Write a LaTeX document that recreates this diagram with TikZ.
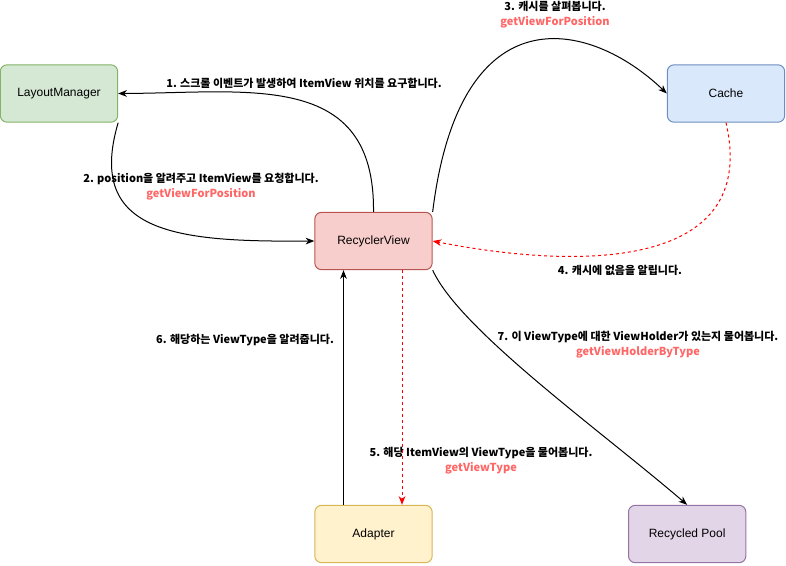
\documentclass[tikz,border=0pt]{standalone}
\usepackage{fontspec}
\setmainfont{Liberation Sans}
\newfontfamily\krfont{Noto Sans CJK KR}
\usepackage{xcolor}
\usetikzlibrary{arrows.meta,positioning}
\definecolor{lmfill}{HTML}{D5E8D4}\definecolor{lmline}{HTML}{82B366}
\definecolor{cafill}{HTML}{DAE8FC}\definecolor{caline}{HTML}{6C8EBF}
\definecolor{rvfill}{HTML}{F8CECC}\definecolor{rvline}{HTML}{B85450}
\definecolor{adfill}{HTML}{FFF2CC}\definecolor{adline}{HTML}{D6B656}
\definecolor{rpfill}{HTML}{E1D5E7}\definecolor{rpline}{HTML}{9673A6}
\definecolor{callred}{HTML}{FF6666}
\definecolor{missred}{HTML}{FF0000}

\begin{document}
\begin{tikzpicture}[
  x=0.75pt, y=-0.75pt,
  font=\fontsize{9}{11}\selectfont,
  box/.style={draw, rounded corners=5pt, align=center, minimum width=88pt, minimum height=43pt, inner sep=2pt, line width=0.75pt},
  lmbox/.style={box, fill=lmfill, draw=lmline},
  cabox/.style={box, fill=cafill, draw=caline},
  rvbox/.style={box, fill=rvfill, draw=rvline},
  adbox/.style={box, fill=adfill, draw=adline},
  rpbox/.style={box, fill=rpfill, draw=rpline},
  note/.style={font=\krfont\bfseries\fontsize{8.25}{11.25}\selectfont, align=center, inner sep=0pt},
  arr/.style={-{Stealth[length=6.5pt, width=5pt, inset=2pt]}, line width=0.75pt},
  miss/.style={arr, draw=missred, dash pattern=on 2.25pt off 2.25pt}
]
\useasboundingbox (0,0) rectangle (786,565);
\node[lmbox] (lm) at (59,93.5) {LayoutManager};
\node[cabox] (cache) at (726,93.5) {Cache};
\node[rvbox] (rv) at (373.5,241) {RecyclerView};
\node[adbox, below=176pt of rv] (adapter) {Adapter};
\node[rpbox, right=146.5pt of adapter] (pool) {Recycled Pool};
% labels
\node[note] (n1) at (304,83) {1. 스크롤 이벤트가 발생하여 ItemView 위치를 요구합니다.};
\node[note] (n2) at (201,187) {2. position을 알려주고 ItemView를 요청합니다.\\{\color{callred}getViewForPosition}};
\node[note] (n3) at (555,14.5) {3. 캐시를 살펴봅니다.\\{\color{callred}getViewForPosition}};
\node[note] (n4) at (620,270) {4. 캐시에 없음을 알립니다.};
\node[note] (n5) at (481,461) {5. 해당 ItemView의 ViewType을 물어봅니다.\\{\color{callred}getViewType}};
\node[note] (n6) at (245,340) {6. 해당하는 ViewType을 알려줍니다.};
\node[note] (n7) at (638,344.5) {7. 이 ViewType에 대한 ViewHolder가 있는지 물어봅니다.\\{\color{callred}getViewHolderByType}};
% connectors
\draw[arr] (rv.north) .. controls (375,70) and (250,93) .. (lm.east);
\draw[arr] (lm.south east) .. controls (85,235) and (180,242) .. (rv.west);
\draw[arr] (rv.north east) .. controls (460,-10) and (590,20) .. (cache.west);
\draw[miss] (cache.south) .. controls (760,270) and (580,270) .. (rv.east);
\draw[miss] ([xshift=21.4pt]rv.south) -- ([xshift=21.4pt]adapter.north);
\draw[arr] ([xshift=-22.5pt]adapter.north) -- ([xshift=-22.5pt]rv.south);
\draw[arr] (rv.south east) .. controls (460,330) and (600,430) .. (pool.north);
\end{tikzpicture}
\end{document}
